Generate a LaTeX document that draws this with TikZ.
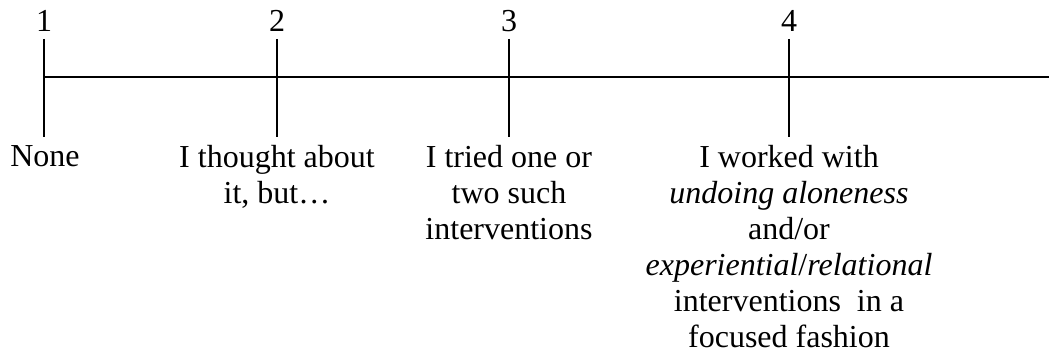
\documentclass[tikz,border=0pt]{standalone}
\usepackage{fontspec}
\setmainfont{Liberation Serif}
\usepackage{tikz}
\usetikzlibrary{positioning}

\begin{document}
\begin{tikzpicture}[x=0.5pt,y=-0.5pt,
    scaleline/.style={line width=1pt},
    num/.style={anchor=base,inner sep=0pt,font=\fontsize{16}{18}\selectfont},
    answer/.style={anchor=north,inner sep=0pt,align=center,font=\fontsize{16}{18}\selectfont}]
            \useasboundingbox (0,0) rectangle (1049,353);
            % ticks
            \coordinate (t1) at (44,39);   \coordinate (b1) at (44,137);
            \coordinate (t2) at (277,39);  \coordinate (b2) at (277,137);
            \coordinate (t3) at (509,39);  \coordinate (b3) at (509,137);
            \coordinate (t4) at (789,39);  \coordinate (b4) at (789,137);
            \coordinate (s) at (44,77);
            \coordinate (e) at (1049,77);
            \draw[scaleline] (s) -- (e);
            \draw[scaleline] (t1) -- (b1);
            \draw[scaleline] (t2) -- (b2);
            \draw[scaleline] (t3) -- (b3);
            \draw[scaleline] (t4) -- (b4);
            % numbers
            \node[num](n1) at (44,32) {1};
            \node[num](n2) at (277,32) {2};
            \node[num](n3) at (509,32) {3};
            \node[num](n4) at (789,32) {4};
            % answers
            \node[answer](a1) at (45,145) {None};
            \node[answer](a2) at (277,145) {I thought about\\it, but…};
            \node[answer](a3) at (509,145) {I tried one or\\two such\\interventions};
            \node[answer](a4) at (789,145) {I worked with\\\textit{undoing aloneness}\\and/or\\\textit{experiential}/\textit{relational}\\interventions~ in a\\focused fashion};
        \end{tikzpicture}
\end{document}
